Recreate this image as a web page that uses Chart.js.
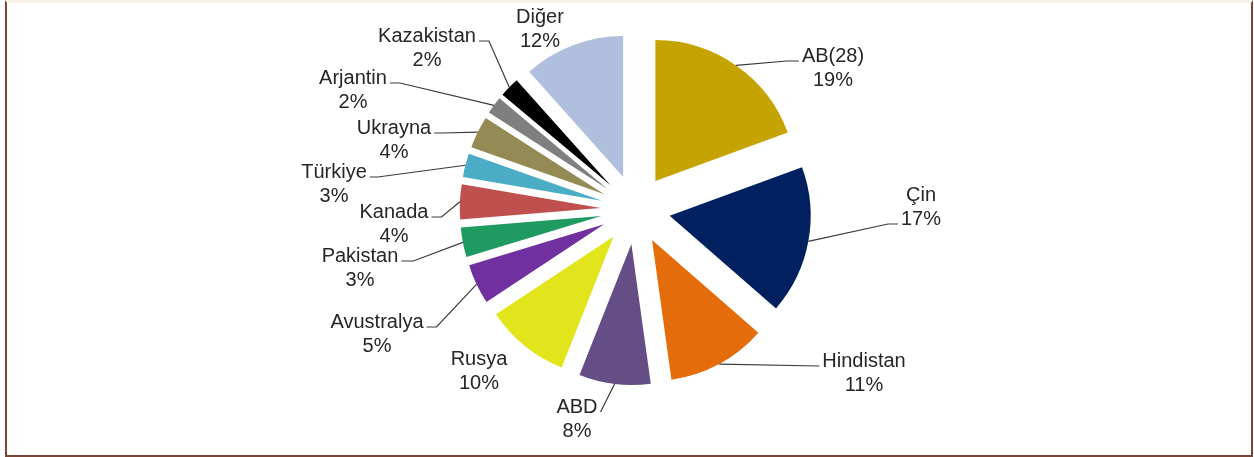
<!DOCTYPE html>
<html lang="tr">
<head>
<meta charset="UTF-8">
<title>Pay dağılımı</title>
<style>
  body { margin: 0; background: #fff; }
  #wrap { position: relative; width: 1254px; height: 457px; }
  #frame {
    position: absolute; left: 5px; top: 0; width: 1248px; height: 457px;
    box-sizing: border-box; pointer-events: none;
    border-left: 2px solid #7a4536; border-right: 2px solid #7a4536;
    border-bottom: 2px solid #7a4536; border-top: 3px solid #fcf1e8;
  }
  canvas { position: absolute; left: 0; top: 0; }
</style>
</head>
<body>
<div id="wrap">
  <canvas id="pie" width="1254" height="457"></canvas>
  <div id="frame"></div>
</div>

<script src="https://cdn.jsdelivr.net/npm/chart.js"></script>
<script>
// data (shares, labels show them rounded)
const countries = ["AB(28)", "Çin", "Hindistan", "ABD", "Rusya", "Avustralya", "Pakistan",
  "Kanada", "Türkiye", "Ukrayna", "Arjantin", "Kazakistan", "Diğer"];
const shares = [19.4, 17.0, 11.4, 8.2, 9.7, 4.6, 3.4, 4.0, 2.7, 3.7, 2.0, 2.3, 11.6];
const sliceColors = ["#c5a300", "#002060", "#e46c0a", "#654d85", "#e2e51c", "#7030a0", "#1f9a60",
  "#c0504d", "#4bacc6", "#948a54", "#7f7f7f", "#000000", "#b0bfdd"];

// label layout: [centre x, first baseline y]
const labelPos = [[833, 62], [921, 201], [864, 367], [577, 413], [479, 365], [377, 328], [360, 262],
  [394, 218], [334, 178], [394, 134], [353, 84], [427, 42], [540, 23]];
// leader lines: [side of text the line meets, text line, horizontal elbow]
const leaders = [["left", 0, 12], ["left", 1, 10], ["left", 0, 0], ["right", 0, 0], null,
  ["right", 0, 10], ["right", 0, 12], ["right", 0, 10], ["right", 0, 8], ["right", 0, 8],
  ["right", 0, 10], ["right", 0, 10], null];

const RADIUS = 141;
const OFFSET = 139; // chart.js moves arcs by offset / 4
const FONT = '20px "Liberation Sans", Arial, sans-serif';
const LINE_H = 24;

// chart.js grows thin exploded slices and trims their angle; undo both so
// every slice keeps the full radius and its true share of the circle
const evenSlices = {
  id: "evenSlices",
  afterDatasetsUpdate(chart) {
    chart.getDatasetMeta(0).data.forEach((arc) => {
      const fix = 1 - Math.sin(Math.min(Math.PI, arc.circumference));
      const grow = (OFFSET / 4) * fix;
      arc.outerRadius = RADIUS - grow;
      const trim = grow / Math.PI / RADIUS;
      arc.startAngle -= trim / 2;
      arc.endAngle += trim / 2;
    });
  },
};

const pieLabels = {
  id: "pieLabels",
  afterDatasetsDraw(chart) {
    const ctx = chart.ctx;
    const total = shares.reduce((a, b) => a + b, 0);
    ctx.save();
    ctx.font = FONT;
    ctx.textAlign = "center";
    ctx.textBaseline = "alphabetic";
    chart.getDatasetMeta(0).data.forEach((arc, i) => {
      const lines = [countries[i], Math.round((shares[i] / total) * 100) + "%"];
      const [lx, ly] = labelPos[i];
      ctx.fillStyle = "#262626";
      lines.forEach((t, k) => ctx.fillText(t, lx, ly + k * LINE_H));

      const ld = leaders[i];
      if (!ld) return;
      const [side, row, elbow] = ld;
      const w = ctx.measureText(lines[row]).width;
      const ay = ly + row * LINE_H - 1;
      let ax, ex;
      if (side === "left") {
        ax = lx - w / 2 - 3;
        ex = ax - elbow;
      } else {
        ax = lx + w / 2 + 3;
        ex = ax + elbow;
      }
      const mid = (arc.startAngle + arc.endAngle) / 2;
      const r = RADIUS + OFFSET / 4;
      const px = arc.x + Math.cos(mid) * r;
      const py = arc.y + Math.sin(mid) * r;
      ctx.strokeStyle = "#3a3a3a";
      ctx.lineWidth = 1.2;
      ctx.beginPath();
      ctx.moveTo(ax, ay);
      ctx.lineTo(ex, ay);
      ctx.lineTo(px, py);
      ctx.stroke();
    });
    ctx.restore();
  },
};

new Chart(document.getElementById("pie"), {
  type: "pie",
  data: {
    labels: countries,
    datasets: [{
      data: shares,
      backgroundColor: sliceColors,
      borderWidth: 0,
      offset: OFFSET,
      hoverOffset: 0,
    }],
  },
  options: {
    responsive: false,
    animation: false,
    radius: RADIUS,
    layout: { padding: { left: 17, right: 0, top: 0, bottom: 38 } },
    plugins: {
      legend: { display: false },
      tooltip: { enabled: false },
    },
  },
  plugins: [evenSlices, pieLabels],
});
</script>
</body>
</html>
